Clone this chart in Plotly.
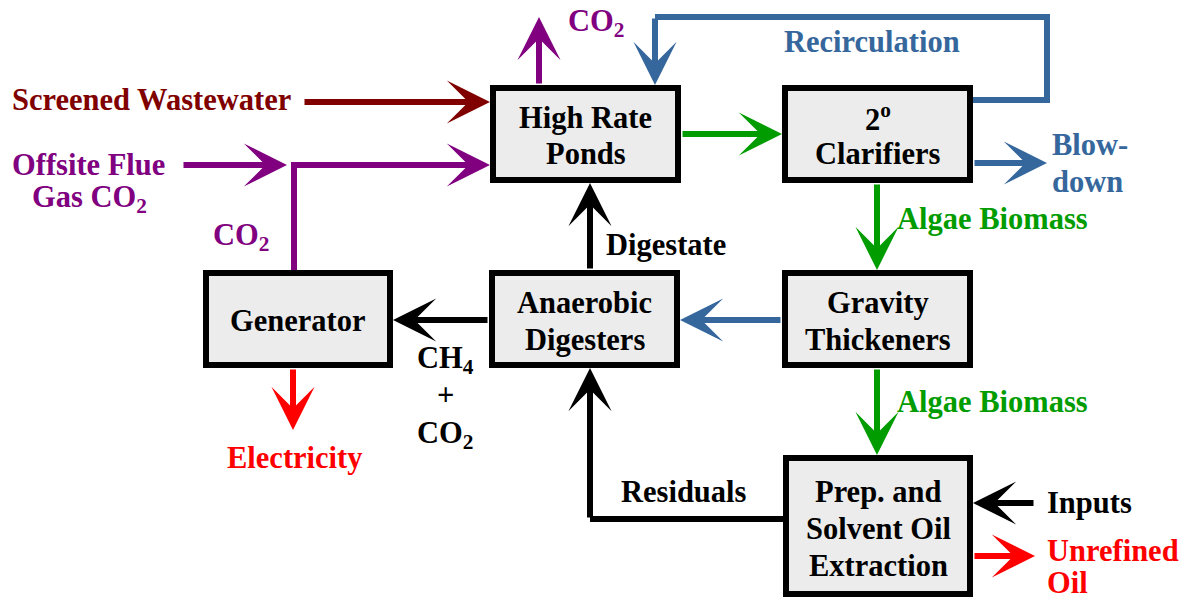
import plotly.graph_objects as go

W, H = 1184, 600
FONT = "Liberation Serif"
FS = 30.5

C_DARKRED = "#800000"
C_PURPLE = "#800080"
C_BLUE = "#35679d"
C_GREEN = "#009c00"
C_RED = "#ff0000"
C_BLACK = "#000000"
BOX_FILL = "#ececec"

# process boxes: (x0, x1, y0, y1, lines, line centres)
box_names = ["hrp", "clar", "gen", "ad", "grav", "prep"]
box_x0 = [490, 782, 203, 489, 782, 783]
box_x1 = [681, 973, 393, 680, 973, 973]
box_y0 = [85, 85, 270, 270, 270, 455]
box_y1 = [183, 183, 368, 368, 368, 597]
box_lines = [["High Rate", "Ponds"], ["2<sup>o</sup>", "Clarifiers"], ["Generator"],
             ["Anaerobic", "Digesters"], ["Gravity", "Thickeners"],
             ["Prep. and", "Solvent Oil", "Extraction"]]
box_line_y = [[118, 154], [117, 154], [321], [303, 340], [303, 340], [492, 529, 566]]

# straight arrows: tail -> tip
arrow_tail_x = [303, 182, 294, 539, 655, 681, 973, 877, 877, 782, 489, 590, 590, 293, 1035, 973]
arrow_tail_y = [102, 165, 165, 85, 17, 134, 163, 183, 368, 320, 320, 270, 519, 368, 503, 556]
arrow_tip_x = [490, 287, 490, 539, 655, 782, 1047, 877, 877, 680, 393, 590, 590, 293, 973, 1035]
arrow_tip_y = [102, 165, 165, 17, 85, 134, 163, 270, 455, 320, 320, 183, 368, 430, 503, 556]
arrow_color = [C_DARKRED, C_PURPLE, C_PURPLE, C_PURPLE, C_BLUE, C_GREEN, C_BLUE, C_GREEN,
               C_GREEN, C_BLUE, C_BLACK, C_BLACK, C_BLACK, C_RED, C_BLACK, C_RED]

# plain connector polylines
poly_x = [[294, 294], [973, 1047, 1047, 655], [783, 590]]
poly_y = [[162, 270], [100, 100, 17, 17], [519, 519]]
poly_color = [C_PURPLE, C_BLUE, C_BLACK]

# free labels
label_text = ["Screened Wastewater", "Offsite Flue", "Gas CO<sub>2</sub>", "CO<sub>2</sub>",
              "CO<sub>2</sub>", "Recirculation", "Blow-", "down", "Algae Biomass",
              "Algae Biomass", "Digestate", "CH<sub>4</sub>", "+", "CO<sub>2</sub>",
              "Electricity", "Residuals", "Inputs", "Unrefined", "Oil"]
label_x = [10, 88, 89, 241, 596, 872, 1050, 1050, 895, 895, 604, 445, 445, 445, 294, 684, 1045, 1045, 1045]
label_y = [100, 165, 199, 237, 23, 42, 145, 182, 219, 402, 245, 360, 395, 435, 458, 492, 503, 551, 583]
label_anchor = ["left", "center", "center", "center", "center", "center", "left", "left", "left",
                "left", "left", "center", "center", "center", "center", "center", "left", "left", "left"]
label_color = [C_DARKRED, C_PURPLE, C_PURPLE, C_PURPLE, C_PURPLE, C_BLUE, C_BLUE, C_BLUE, C_GREEN,
               C_GREEN, C_BLACK, C_BLACK, C_BLACK, C_BLACK, C_RED, C_BLACK, C_BLACK, C_RED, C_RED]

fig = go.Figure()
shapes = []
annotations = []

LW = 6
for xs, ys, c in zip(poly_x, poly_y, poly_color):
    d = "M " + " L ".join(f"{x},{y}" for x, y in zip(xs, ys))
    shapes.append(dict(type="path", path=d, line=dict(color=c, width=LW), layer="above"))

for tx, ty, hx, hy, c in zip(arrow_tail_x, arrow_tail_y, arrow_tip_x, arrow_tip_y, arrow_color):
    annotations.append(dict(x=hx, y=hy, ax=tx, ay=ty, xref="x", yref="y", axref="x", ayref="y",
                            text="", showarrow=True, arrowhead=3, arrowsize=1.2, arrowwidth=LW,
                            arrowcolor=c, standoff=0))

BW = 6
for x0, x1, y0, y1, lines, ly in zip(box_x0, box_x1, box_y0, box_y1, box_lines, box_line_y):
    shapes.append(dict(type="rect", x0=x0 + BW / 2, x1=x1 - BW / 2, y0=y0 + BW / 2, y1=y1 - BW / 2,
                       fillcolor=BOX_FILL, line=dict(color=C_BLACK, width=BW), layer="above"))
    cx = (x0 + x1) / 2
    for t, y in zip(lines, ly):
        annotations.append(dict(x=cx, y=y, xref="x", yref="y", text=t, showarrow=False,
                                xanchor="center", yanchor="middle",
                                font=dict(family=FONT, size=FS, color=C_BLACK, weight="bold")))

for t, x, y, a, c in zip(label_text, label_x, label_y, label_anchor, label_color):
    annotations.append(dict(x=x, y=y, xref="x", yref="y", text=t, showarrow=False,
                            xanchor=a, yanchor="middle",
                            font=dict(family=FONT, size=FS, color=c, weight="bold")))

fig.update_layout(
    width=W, height=H, margin=dict(l=0, r=0, t=0, b=0),
    paper_bgcolor="white", plot_bgcolor="white",
    xaxis=dict(range=[0, W], visible=False, fixedrange=True),
    yaxis=dict(range=[H, 0], visible=False, fixedrange=True),
    shapes=shapes, annotations=annotations, showlegend=False,
)
fig.write_html("out.html", config={"displayModeBar": False},
               post_script="document.body.style.margin='0';document.body.style.overflow='hidden';")
